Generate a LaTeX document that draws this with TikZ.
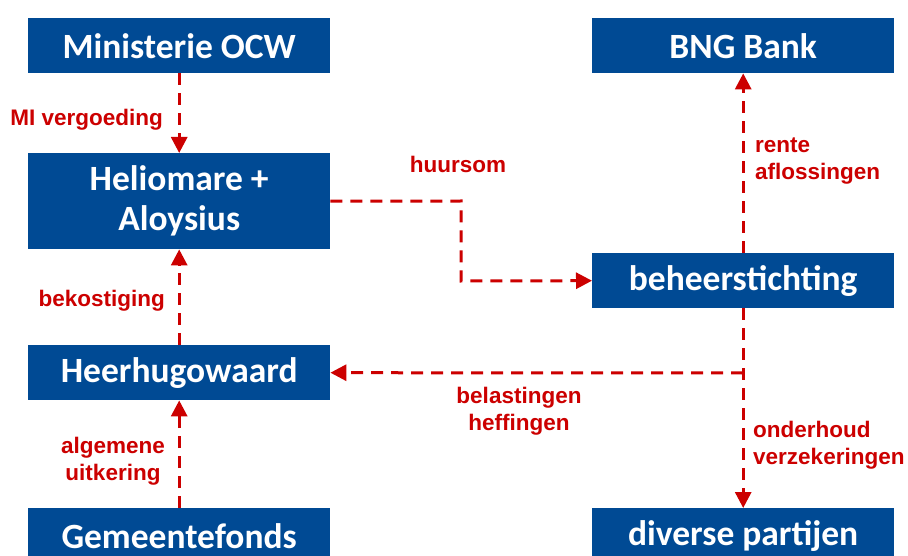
\documentclass[tikz,border=0pt]{standalone}
\usepackage{fontspec}
\setmainfont{Liberation Sans}
\newfontfamily\boxfont{Carlito}
\usetikzlibrary{arrows.meta}
\definecolor{boxblue}{HTML}{004A94}
\definecolor{flowred}{HTML}{CC0000}
\begin{document}
\begin{tikzpicture}[x=1pt,y=-1pt,
 entity/.style={fill=boxblue, text=white, font=\boxfont\bfseries\fontsize{35.5}{40}\selectfont, minimum width=302pt, minimum height=55pt, inner sep=0pt, align=center, anchor=north west},
 flow/.style={draw=flowred, line width=3pt, dash pattern=on 12pt off 8pt, -{Triangle[length=16pt,width=16pt]}},
 lbl/.style={text=flowred, font=\bfseries\fontsize{22.5}{27}\selectfont, inner sep=0pt}]
\fill[white] (0,0) rectangle (908,556);
\clip (0,0) rectangle (908,556);
\useasboundingbox (0,0) rectangle (908,556);

\node[entity] (ocw) at (28,18) {Ministerie OCW};
\node[entity] (bng) at (592,18) {BNG Bank};
\node[entity, minimum height=96pt] (helio) at (28,153) {Heliomare +\\Aloysius};
\node[entity] (beheer) at (592,253) {beheerstichting};
\node[entity] (heer) at (28,345) {Heerhugowaard};
\node[entity] (gem) at (28,508) {Gemeentefonds};
\node[entity] (div) at (592,508) {diverse partijen};

\coordinate (h1) at (461,201);
\coordinate (h2) at (461,281);
\coordinate (b1) at (743,373);

\draw[flow] (ocw) -- (helio);
\draw[flow] (heer) -- (helio);
\draw[flow] (gem) -- (heer);
\draw[flow] (helio.east) -- (h1) -- (h2) -- (beheer.west);
\draw[flow] (beheer) -- (bng);
\draw[flow] (beheer) -- (div);
\draw[flow] (b1) -- (heer.east);

\node[lbl, anchor=east] (l1) at (163,120) {MI vergoeding};
\node[lbl] (l2) at (458,164) {huursom};
\node[lbl, anchor=west, align=left] (l3) at (755,161) {rente\\aflossingen};
\node[lbl, anchor=east] (l4) at (165,301) {bekostiging};
\node[lbl, align=center] (l5) at (519,411) {belastingen\\heffingen};
\node[lbl, align=center] (l6) at (113,461) {algemene\\uitkering};
\node[lbl, anchor=west, align=left] (l7) at (753,445) {onderhoud\\verzekeringen};
\end{tikzpicture}
\end{document}
